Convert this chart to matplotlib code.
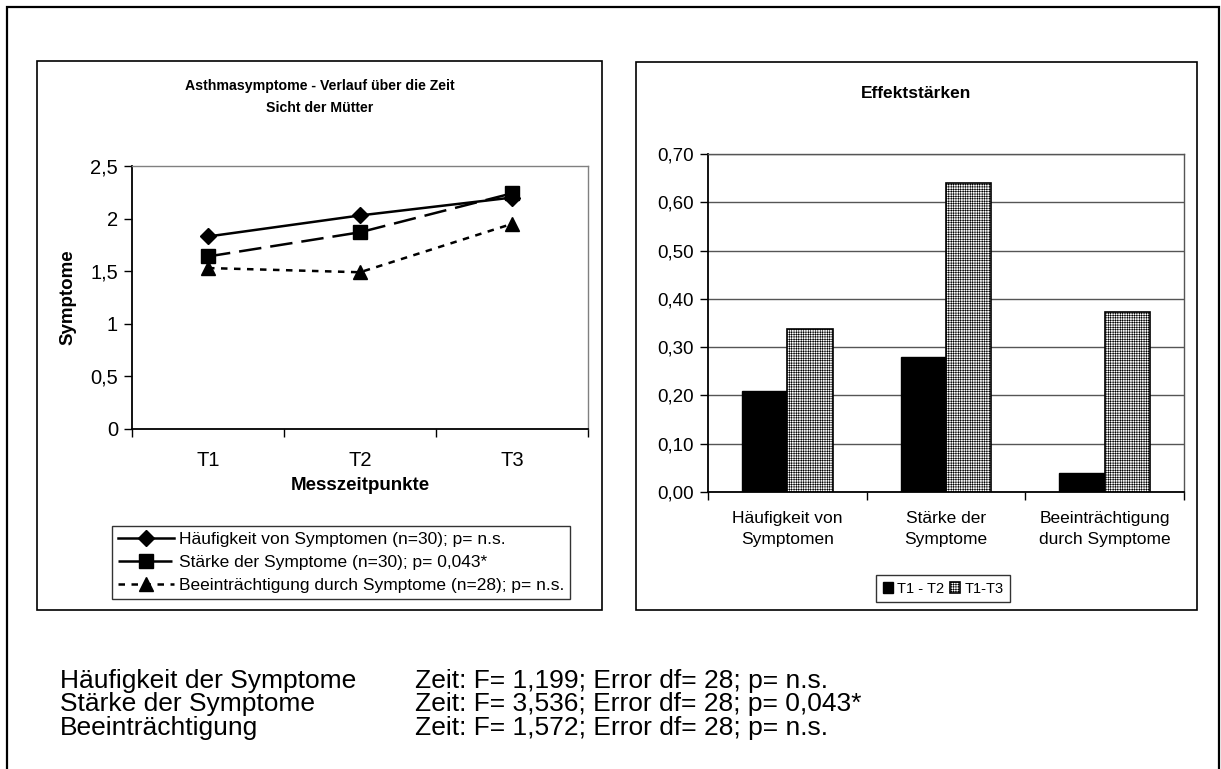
import matplotlib.pyplot as plt
from matplotlib.patches import Rectangle
import numpy as np

plt.rcParams['font.family'] = ['Liberation Sans', 'DejaVu Sans']
plt.rcParams['hatch.linewidth'] = 0.4

W, H = 1221, 769

# left chart: symptoms over time (mothers' view)
timepoints = ['T1', 'T2', 'T3']
haeufigkeit = [1.83, 2.03, 2.20]
staerke = [1.64, 1.87, 2.24]
beeintraechtigung = [1.53, 1.49, 1.95]
line_labels = [
    'Häufigkeit von Symptomen (n=30); p= n.s.',
    'Stärke der Symptome (n=30); p= 0,043*',
    'Beeinträchtigung durch Symptome (n=28); p= n.s.',
]
y_ticks_left = [0, 0.5, 1, 1.5, 2, 2.5]
y_ticklabels_left = ['0', '0,5', '1', '1,5', '2', '2,5']

# right chart: effect sizes
effect_cats = ['Häufigkeit von\nSymptomen', 'Stärke der\nSymptome',
               'Beeinträchtigung\ndurch Symptome']
eff_t1_t2 = [0.21, 0.28, 0.04]
eff_t1_t3 = [0.337, 0.64, 0.372]
y_ticks_right = [0.0, 0.1, 0.2, 0.3, 0.4, 0.5, 0.6, 0.7]

# statistics below the charts
stat_names = ['Häufigkeit der Symptome', 'Stärke der Symptome', 'Beeinträchtigung']
stat_texts = [
    'Zeit: F= 1,199; Error df= 28; p= n.s.',
    'Zeit: F= 3,536; Error df= 28; p= 0,043*',
    'Zeit: F= 1,572; Error df= 28; p= n.s.',
]


def rect(x0, y0, x1, y1):
    # pixel box (top-left origin) -> figure fraction rect
    return [x0 / W, 1 - y1 / H, (x1 - x0) / W, (y1 - y0) / H]


def fx(x):
    return x / W


def fy(y):
    return 1 - y / H


fig = plt.figure(figsize=(W / 100, H / 100), dpi=100)

# frames
fig.add_artist(Rectangle((fx(7), fy(790)), fx(1219) - fx(7), fy(7) - fy(790),
                         transform=fig.transFigure, fill=False, lw=1.6, ec='k'))
fig.add_artist(Rectangle((fx(37), fy(610)), fx(602) - fx(37), fy(61) - fy(610),
                         transform=fig.transFigure, fill=False, lw=1.2, ec='k'))
fig.add_artist(Rectangle((fx(636), fy(610)), fx(1197) - fx(636), fy(62) - fy(610),
                         transform=fig.transFigure, fill=False, lw=1.2, ec='k'))

# ---- left chart
ax = fig.add_axes(rect(132, 166, 588, 429))
x = np.arange(len(timepoints))
ax.plot(x, haeufigkeit, color='k', lw=1.8, marker='D', ms=8, label=line_labels[0])
ax.plot(x, staerke, color='k', lw=1.8, marker='s', ms=10, dashes=(9, 3.6),
        label=line_labels[1])
ax.plot(x, beeintraechtigung, color='k', lw=1.8, marker='^', ms=10, dashes=(2.6, 2.6),
        label=line_labels[2])
ax.set_xlim(-0.5, 2.5)
ax.set_ylim(0, 2.5)
ax.set_xticks(x)
ax.set_xticklabels(timepoints, fontsize=14.5)
ax.set_xticks([-0.5, 0.5, 1.5, 2.5], minor=True)
ax.tick_params(axis='x', which='major', length=0, pad=16)
ax.tick_params(axis='x', which='minor', length=6, direction='out', width=1)
ax.set_yticks(y_ticks_left)
ax.set_yticklabels(y_ticklabels_left, fontsize=14.5)
ax.tick_params(axis='y', length=6, direction='out', width=1, pad=4)
for s in ['top', 'right']:
    ax.spines[s].set_color('#808080')
    ax.spines[s].set_linewidth(1)
for s in ['left', 'bottom']:
    ax.spines[s].set_linewidth(1.3)
ax.set_xlabel('Messzeitpunkte', fontsize=13.5, fontweight='bold', va='center')
ax.xaxis.set_label_coords(0.5, (429 - 486) / 263)
ax.set_ylabel('Symptome', fontsize=13.5, fontweight='bold', va='center')
ax.yaxis.set_label_coords((68 - 132) / 456, 0.5)

leg = ax.legend(loc='upper left', bbox_to_anchor=(fx(112), fy(526)),
                bbox_transform=fig.transFigure, fontsize=12.5, frameon=True,
                fancybox=False, edgecolor='k', handlelength=3.2, handletextpad=0.3,
                borderpad=0.35, labelspacing=0.45, borderaxespad=0)
leg.get_frame().set_linewidth(1)

fig.text(fx(320), fy(86), 'Asthmasymptome - Verlauf über die Zeit', ha='center',
         va='center', fontsize=10.2, fontweight='bold')
fig.text(fx(320), fy(108), 'Sicht der Mütter', ha='center', va='center',
         fontsize=10.2, fontweight='bold')

# ---- right chart
ax2 = fig.add_axes(rect(708, 154, 1184, 492))
xc = np.arange(len(effect_cats))
bw = 0.285
ax2.bar(xc - bw / 2, eff_t1_t2, bw, color='k', edgecolor='k', lw=1, label='T1 - T2',
        zorder=3)
ax2.bar(xc + bw / 2, eff_t1_t3, bw, color='white', edgecolor='k', lw=1.2,
        hatch='+++++++', label='T1-T3', zorder=3)
ax2.set_xlim(-0.5, 2.5)
ax2.set_ylim(0, 0.7)
ax2.set_yticks(y_ticks_right)
ax2.set_yticklabels([f'{v:.2f}'.replace('.', ',') for v in y_ticks_right], fontsize=13.5)
ax2.tick_params(axis='y', length=6, direction='out', width=1, pad=4)
ax2.grid(axis='y', color='#555555', lw=1, zorder=0)
ax2.set_xticks(xc)
ax2.set_xticklabels(effect_cats, fontsize=12.5, linespacing=1.45)
ax2.set_xticks([-0.5, 0.5, 1.5, 2.5], minor=True)
ax2.tick_params(axis='x', which='major', length=0, pad=14)
ax2.tick_params(axis='x', which='minor', length=6, direction='out', width=1)
for s in ['top', 'right']:
    ax2.spines[s].set_color('#555555')
    ax2.spines[s].set_linewidth(1)
for s in ['left', 'bottom']:
    ax2.spines[s].set_linewidth(1.3)

leg2 = ax2.legend(loc='upper left', bbox_to_anchor=(fx(876), fy(575)),
                  bbox_transform=fig.transFigure, ncol=2, fontsize=10.5,
                  frameon=True, fancybox=False, edgecolor='k', handlelength=0.7,
                  handleheight=0.7, handletextpad=0.3, columnspacing=0.4,
                  borderpad=0.45, borderaxespad=0)
leg2.get_frame().set_linewidth(1)

fig.text(fx(916), fy(93), 'Effektstärken', ha='center', va='center', fontsize=12.5,
         fontweight='bold')

# ---- statistics text
for i, (name, txt) in enumerate(zip(stat_names, stat_texts)):
    yb = 688 + i * 23.5
    fig.text(fx(60), fy(yb), name, ha='left', va='baseline', fontsize=19)
    fig.text(fx(415), fy(yb), txt, ha='left', va='baseline', fontsize=19)

fig.savefig('out.png', dpi=100)
